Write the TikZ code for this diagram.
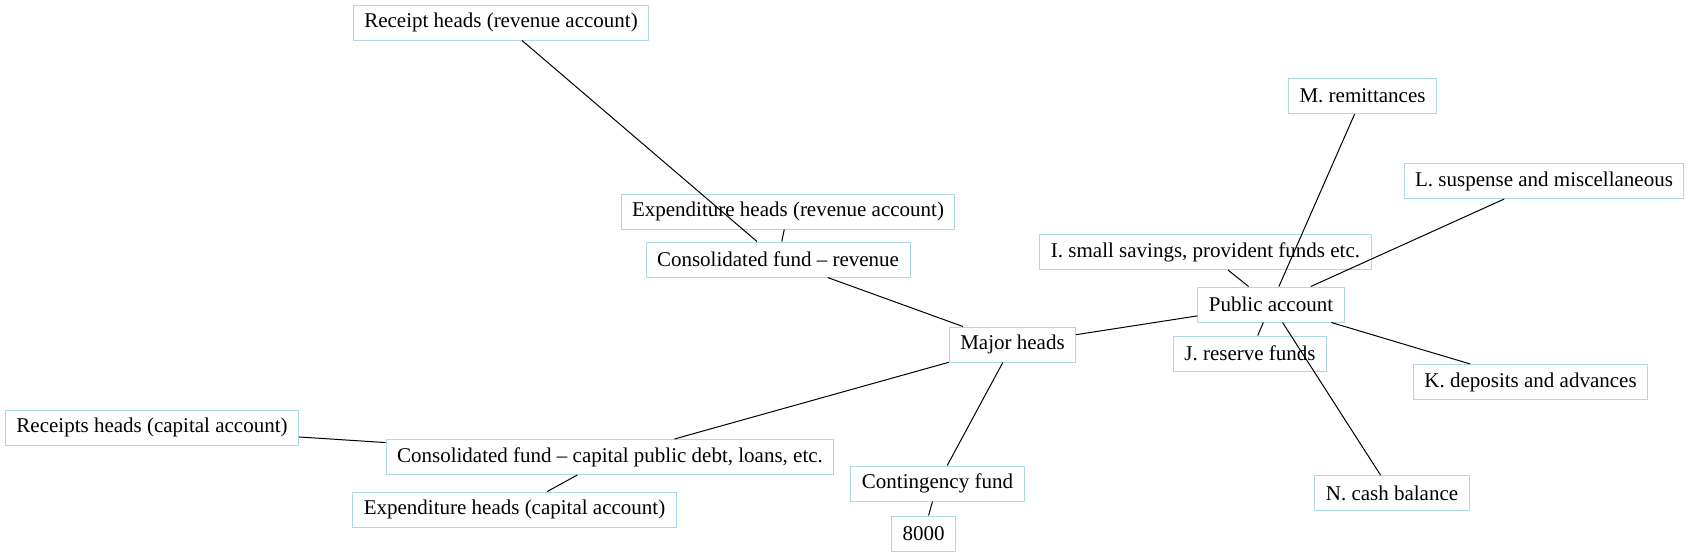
\documentclass[tikz,border=0pt]{standalone}
\usepackage{fontspec}
\setmainfont{Liberation Serif}
\definecolor{headblue}{RGB}{173,216,230}
\begin{document}
\begin{tikzpicture}[x=0.5pt, y=-0.5pt,
            headbox/.style={
                draw=headblue,
                line width=0.5pt,
                font=\fontsize{10.5}{12}\selectfont,
                inner xsep=5.5pt,
                inner ysep=0pt,
                minimum height=17.5pt
            },
            link/.style={
                draw,
                line width=0.5pt
            }
        ]

        \useasboundingbox (0,0) rectangle (1689,557);

        % Centre: major heads
        \node[headbox] (major) at (1012.5,344.5) {Major heads};

        % Consolidated fund (revenue) and its heads
        \node[headbox] (revfund) at (778,259.5) {Consolidated fund -- revenue};
        \node[headbox] (exprev) at (788,211.5) {Expenditure heads (revenue account)};
        \node[headbox] (receiptrev) at (501,22.5) {Receipt heads (revenue account)};

        % Consolidated fund (capital) and its heads
        \node[headbox] (capfund) at (610,457) {Consolidated fund -- capital public debt, loans, etc.};
        \node[headbox] (receiptcap) at (152,427.5) {Receipts heads (capital account)};
        \node[headbox] (expcap) at (514.5,509.5) {Expenditure heads (capital account)};

        % Contingency fund
        \node[headbox] (contfund) at (937.5,483.5) {Contingency fund};
        \node[headbox] (contcode) at (923.5,533.5) {8000};

        % Public account and its sectors
        \node[headbox] (public) at (1271,304.5) {Public account};
        \node[headbox] (savings) at (1205.5,252) {I. small savings, provident funds etc.};
        \node[headbox] (reserve) at (1250,353.5) {J. reserve funds};
        \node[headbox] (deposits) at (1530.5,382) {K. deposits and advances};
        \node[headbox] (suspense) at (1544,181) {L. suspense and miscellaneous};
        \node[headbox] (remit) at (1362.5,96) {M. remittances};
        \node[headbox] (cash) at (1392,493) {N. cash balance};

        % Links
        \draw[link] (major) -- (revfund);
        \draw[link] (revfund) -- (exprev);
        \draw[link] (revfund) -- (receiptrev);
        \draw[link] (major) -- (capfund);
        \draw[link] (capfund) -- (receiptcap);
        \draw[link] (capfund) -- (expcap);
        \draw[link] (major) -- (contfund);
        \draw[link] (contfund) -- (contcode);
        \draw[link] (major) -- (public);
        \draw[link] (public) -- (savings);
        \draw[link] (public) -- (reserve);
        \draw[link] (public) -- (deposits);
        \draw[link] (public) -- (suspense);
        \draw[link] (public) -- (remit);
        \draw[link] (public) -- (cash);
        \end{tikzpicture}
\end{document}
